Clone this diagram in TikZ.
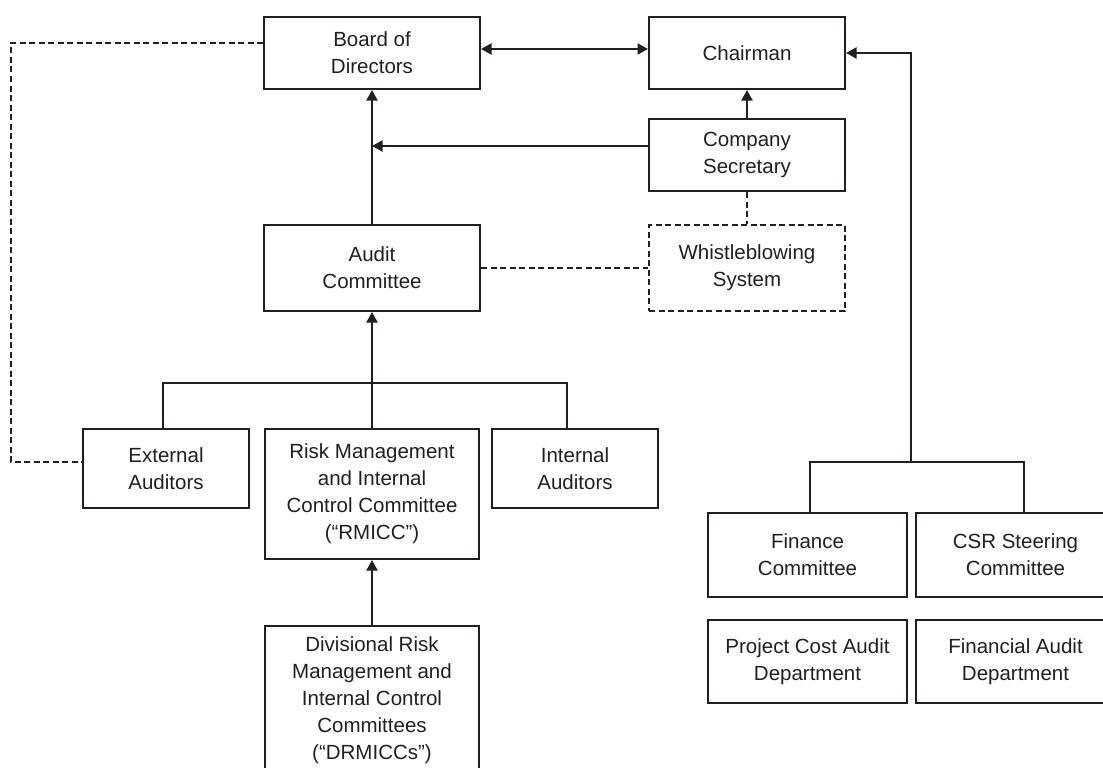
\documentclass[tikz,border=0pt]{standalone}
\usepackage{fontspec}
\setmainfont{Liberation Sans}
\usetikzlibrary{arrows.meta,calc}
\definecolor{ink}{HTML}{231F20}
\begin{document}
\begin{tikzpicture}[x=1pt,y=-1pt,
  box/.style={draw=ink, line width=2pt, rectangle, inner sep=0pt, align=center, text=ink,
    font=\fontsize{20.5}{27}\selectfont},
  dbox/.style={box, dash pattern=on 6pt off 3.5pt},
  conn/.style={draw=ink, line width=2pt},
  arr/.style={conn, -{Triangle[length=10.5pt,width=11pt]}},
  arrboth/.style={conn, {Triangle[length=10.5pt,width=11pt]}-{Triangle[length=10.5pt,width=11pt]}},
  dsh/.style={conn, dash pattern=on 6pt off 3.5pt}]
\clip (0,0) rectangle (1103,768);
\fill[white] (0,0) rectangle (1103,768);

% nodes
\node[box, minimum width=216, minimum height=72] (board) at (372,53) {Board of\\Directors};
\node[box, minimum width=196, minimum height=72] (chair) at (747,53) {Chairman};
\node[box, minimum width=196, minimum height=72] (sec) at (747,155) {Company\\Secretary};
\node[box, minimum width=216, minimum height=86] (audit) at (372,268) {Audit\\Committee};
\node[dbox, minimum width=196, minimum height=86] (whistle) at (747,268) {Whistleblowing\\System};
\node[box, minimum width=166, minimum height=79] (ext) at (166,468.5) {External\\Auditors};
\node[box, minimum width=214, minimum height=130] (rmicc) at (372,494) {Risk Management\\and Internal\\Control Committee\\(“RMICC”)};
\node[box, minimum width=166, minimum height=79] (int) at (575,468.5) {Internal\\Auditors};
\node[box, minimum width=214, minimum height=148] (drm) at (372,700) {Divisional Risk\\Management and\\Internal Control\\Committees\\(“DRMICCs”)};
\node[box, minimum width=199, minimum height=84] (fin) at (807.5,555) {Finance\\Committee};
\node[box, minimum width=199, minimum height=84] (csr) at (1015.5,555) {CSR Steering\\Committee};
\node[box, minimum width=199, minimum height=83] (proj) at (807.5,661.5) {Project Cost Audit\\Department};
\node[box, minimum width=199, minimum height=83] (faud) at (1015.5,661.5) {Financial Audit\\Department};

% coordinates
\coordinate (dlb) at (11,462);
\coordinate (bl) at (163,383);
\coordinate (br) at (567,383);
\coordinate (rj) at (911,462);
\coordinate (fl) at (810,462);
\coordinate (cr) at (1024,462);

% connectors
\draw[arrboth] ([yshift=4pt]board.east) -- ([yshift=4pt]chair.west);
\draw[arr] (audit.north) -- (board.south);
\draw[arr] (sec.north) -- (chair.south);
\draw[arr] ([yshift=9pt]sec.west) -- ([yshift=9pt]sec.west -| board.south);
\draw[dsh] (sec.south) -- (whistle.north);
\draw[dsh] (audit.east) -- (whistle.west);
\draw[dsh] ([yshift=10pt]board.west) -| (dlb) -- ([yshift=6.5pt]ext.west);
\draw[arr] (rmicc.north) -- (audit.south);
\draw[conn] (bl |- ext.north) -- (bl) -- (br) -- (br |- int.north);
\draw[arr] (drm.north) -- (drm.north |- rmicc.south);
\draw[arr] (rj) |- (chair.east);
\draw[conn] (fl |- fin.north) -- (fl) -- (cr) -- (cr |- csr.north);
\end{tikzpicture}
\end{document}
